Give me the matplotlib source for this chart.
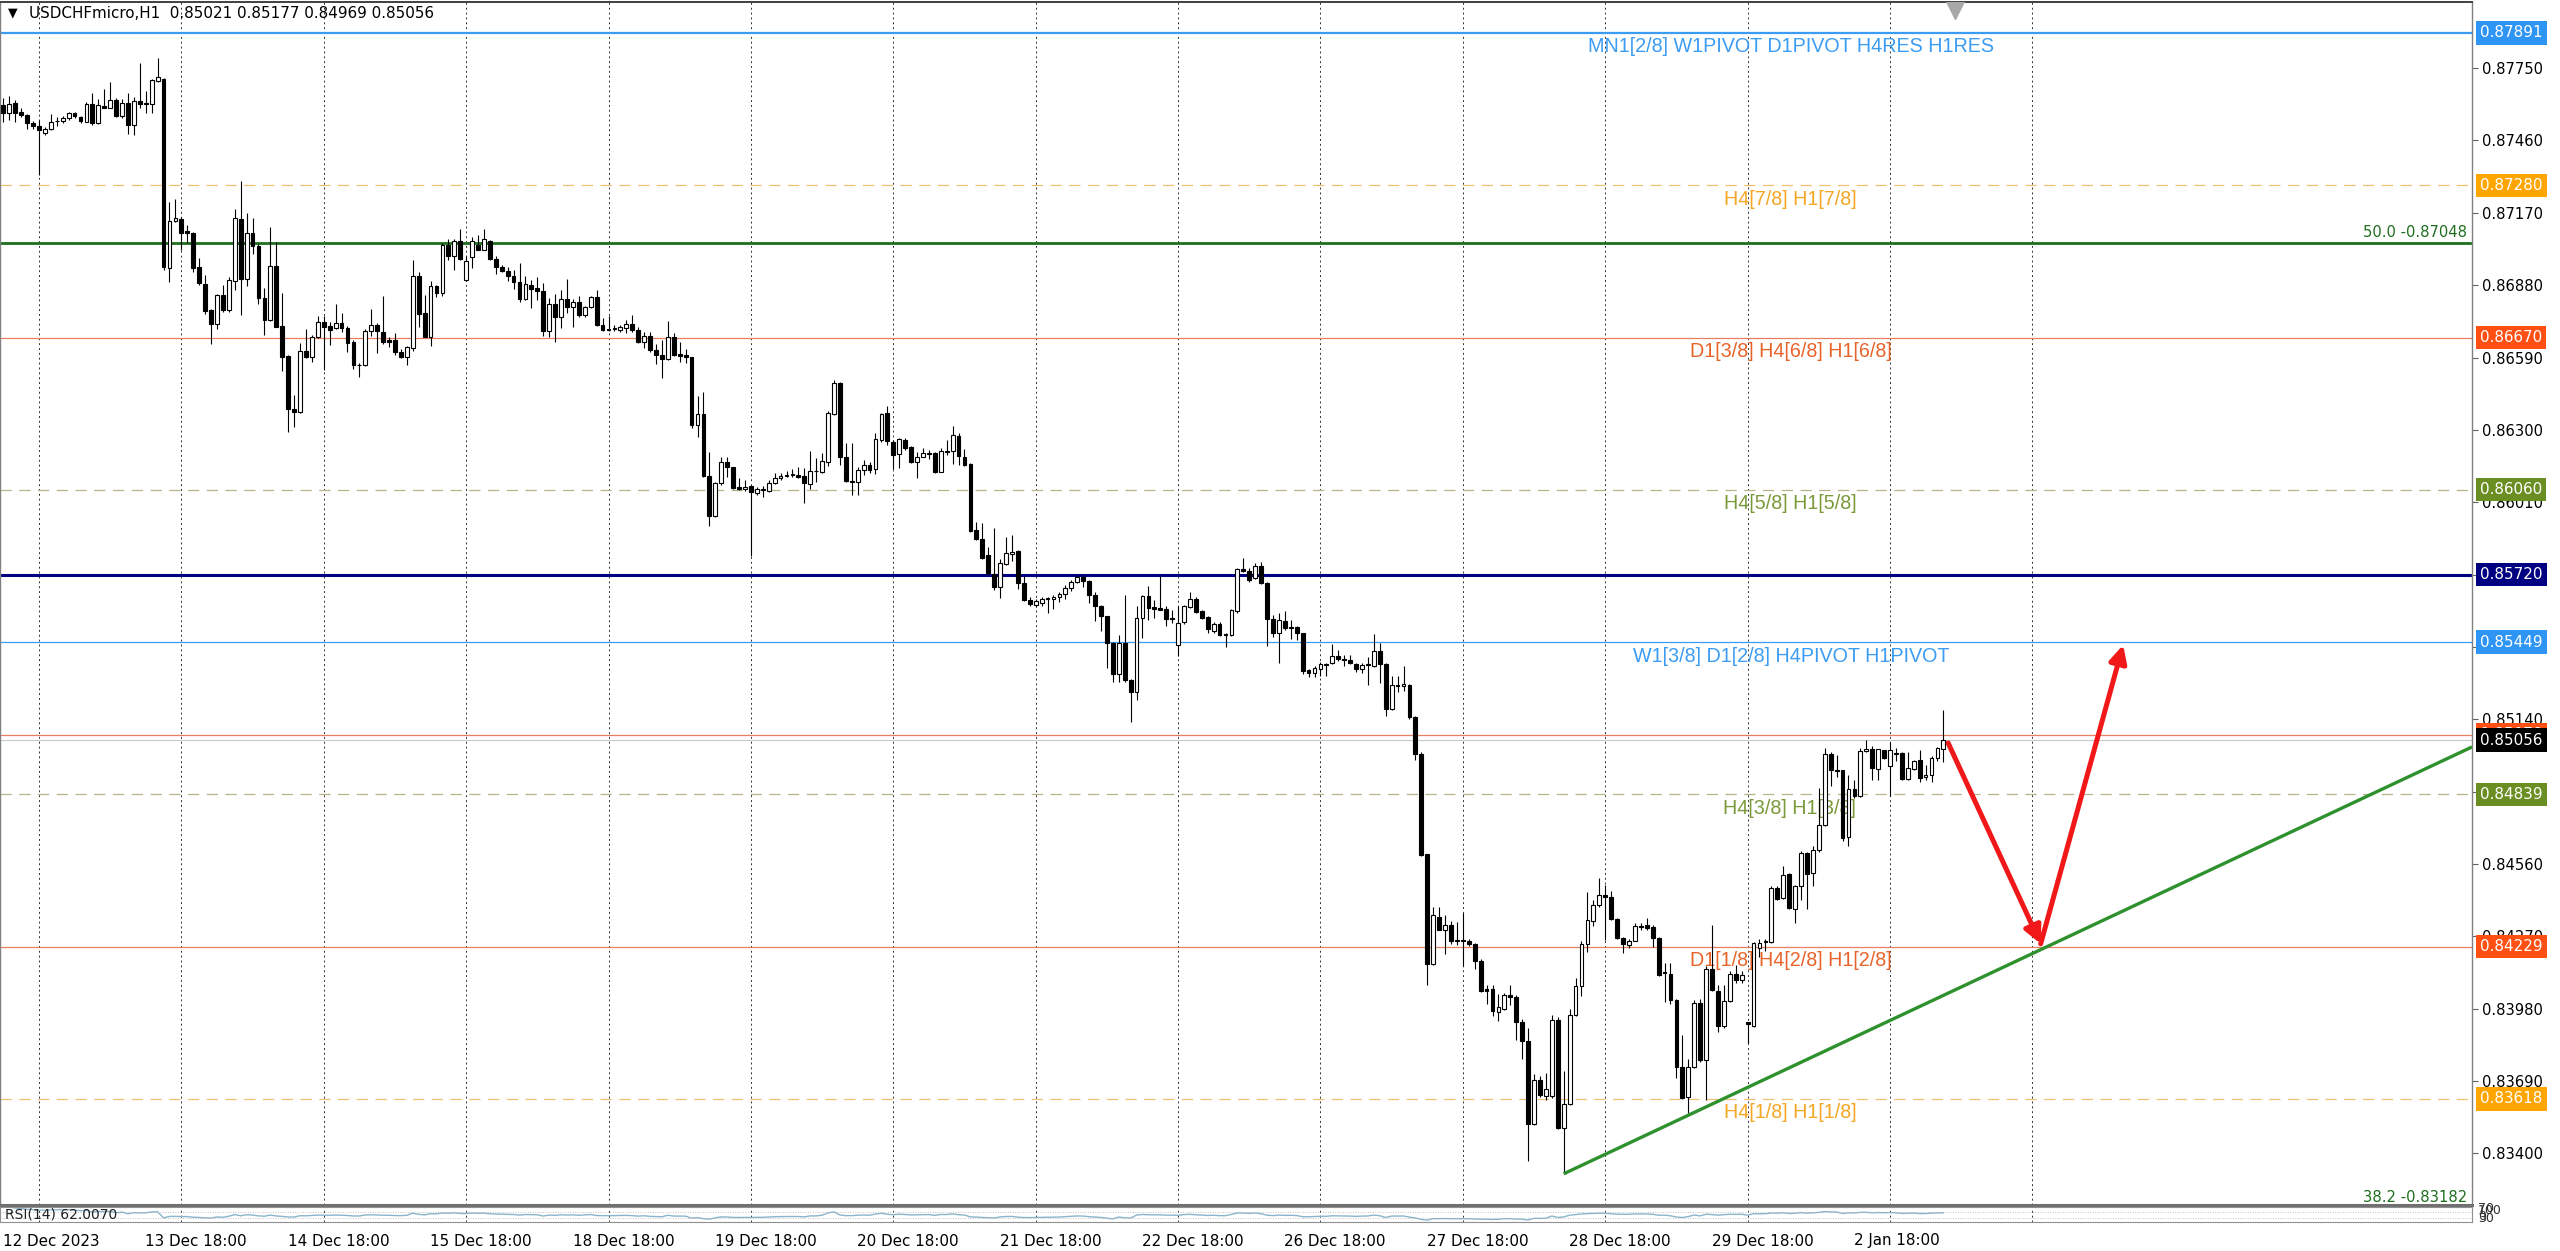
import numpy as np
import pandas as pd
import matplotlib
matplotlib.use("Agg")
import matplotlib.pyplot as plt
import matplotlib.transforms as mtransforms

# USDCHFmicro H1 candles (bar 0 = 12 Dec 12:00)
opens = [
    .87602, .87569, .87609, .87576, .87562, .87529, .87516, .87489, .87505, .87537,
    .87537, .87549, .87572, .87556, .87536, .87605, .87529, .87598, .87592, .87621,
    .87558, .87612, .87521, .87617, .87612, .87606, .87700, .87705, .86949, .87139,
    .87144, .87099, .87091, .86952, .86885, .86781, .86725, .86841, .86781, .86898,
    .87146, .86904, .87091, .87035, .86827, .86741, .86957, .86717, .86596, .86383,
    .86373, .86618, .86594, .86671, .86734, .86717, .86709, .86728, .86708, .86654,
    .86561, .86558, .86697, .86721, .86694, .86661, .86661, .86614, .86594, .86627,
    .86915, .86768, .86674, .86875, .86848, .87042, .86998, .87059, .86901, .86992,
    .87042, .87022, .87059, .86984, .86951, .86937, .86917, .86891, .86824, .86881,
    .86868, .86855, .86697, .86805, .86752, .86824, .86792, .86811, .86761, .86792,
    .86831, .86721, .86706, .86704, .86701, .86708, .86725, .86701, .86654, .86677,
    .86621, .86600, .86583, .86671, .86603, .86600, .86591, .86320, .86364, .86115,
    .85955, .86089, .86173, .86150, .86070, .86063, .86075, .86046, .86059, .86056,
    .86086, .86106, .86115, .86118, .86119, .86115, .86083, .86135, .86133, .86173,
    .86364, .86489, .86190, .86097, .86093, .86139, .86159, .86142, .86260, .86369,
    .86253, .86203, .86260, .86230, .86173, .86193, .86203, .86206, .86133, .86217,
    .86217, .86276, .86193, .86163, .85899, .85861, .85799, .85723, .85672, .85763,
    .85803, .85816, .85688, .85618, .85598, .85605, .85621, .85621, .85629, .85642,
    .85665, .85689, .85712, .85696, .85638, .85592, .85554, .85447, .85322, .85445,
    .85298, .85251, .85545, .85634, .85589, .85586, .85581, .85545, .85438, .85528,
    .85589, .85621, .85572, .85549, .85495, .85522, .85482, .85478, .85572, .85741,
    .85736, .85705, .85756, .85688, .85541, .85485, .85532, .85509, .85509, .85485,
    .85338, .85327, .85343, .85363, .85366, .85392, .85381, .85378, .85363, .85343,
    .85357, .85354, .85413, .85363, .85180, .85277, .85274, .85277, .85151, .85002,
    .84601, .84161, .84349, .84297, .84315, .84253, .84256, .84253, .84238, .84171,
    .84057, .84057, .83968, .83978, .84033, .84027, .83926, .83852, .83518, .83696,
    .83630, .83630, .83934, .83503, .83597, .83953, .84072, .84241, .84330, .84394,
    .84434, .84428, .84339, .84265, .84235, .84253, .84312, .84315, .84307, .84263,
    .84125, .84120, .84016, .83746, .83626, .83746, .84002, .83775, .84139, .84049,
    .83909, .84009, .84120, .84093, .83925, .83909, .84223, .84253, .84249, .84463,
    .84423, .84521, .84379, .84470, .84603, .84523, .84614, .84717, .85002, .84935,
    .84935, .84668, .84860, .84831, .85011, .85020, .84940, .85018, .84953, .85004,
    .85004, .84900, .84940, .84975, .84908, .84917, .84984, .85021,
]
highs = [
    .87629, .87639, .87623, .87589, .87566, .87537, .87542, .87513, .87566, .87553,
    .87558, .87576, .87576, .87558, .87616, .87649, .87625, .87665, .87696, .87629,
    .87625, .87652, .87636, .87772, .87660, .87705, .87792, .87712, .87215, .87224,
    .87155, .87122, .87095, .86988, .86921, .86784, .86845, .86881, .86912, .87184,
    .87299, .87168, .87148, .87045, .86868, .87112, .87055, .86848, .86600, .86440,
    .86650, .86703, .86681, .86757, .86757, .86734, .86805, .86770, .86717, .86661,
    .86567, .86704, .86784, .86730, .86837, .86674, .86690, .86623, .86637, .86979,
    .86931, .86841, .86897, .86881, .87051, .87064, .87064, .87104, .86995, .87075,
    .87082, .87104, .87062, .86995, .86961, .86951, .86941, .86968, .86917, .86901,
    .86912, .86888, .86828, .86845, .86859, .86904, .86824, .86835, .86797, .86837,
    .86861, .86748, .86757, .86721, .86721, .86741, .86761, .86714, .86694, .86694,
    .86645, .86660, .86737, .86690, .86654, .86623, .86594, .86436, .86453, .86213,
    .86093, .86193, .86193, .86153, .86106, .86099, .86075, .86072, .86075, .86099,
    .86126, .86129, .86137, .86142, .86153, .86146, .86217, .86186, .86206, .86377,
    .86500, .86493, .86249, .86249, .86150, .86179, .86173, .86286, .86369, .86396,
    .86260, .86266, .86266, .86236, .86213, .86226, .86219, .86213, .86226, .86260,
    .86316, .86286, .86222, .86166, .85932, .85928, .85832, .85908, .85781, .85872,
    .85879, .85819, .85715, .85629, .85621, .85629, .85629, .85638, .85652, .85679,
    .85699, .85719, .85719, .85699, .85652, .85598, .85554, .85451, .85478, .85638,
    .85300, .85594, .85638, .85675, .85618, .85715, .85592, .85578, .85594, .85598,
    .85652, .85629, .85578, .85552, .85528, .85528, .85487, .85581, .85745, .85785,
    .85745, .85768, .85772, .85692, .85558, .85565, .85572, .85538, .85512, .85487,
    .85341, .85354, .85369, .85366, .85440, .85418, .85398, .85398, .85366, .85366,
    .85388, .85481, .85447, .85366, .85314, .85314, .85354, .85280, .85155, .85007,
    .84601, .84386, .84386, .84357, .84330, .84327, .84364, .84260, .84245, .84181,
    .84075, .84075, .84038, .84042, .84075, .84033, .83938, .83904, .83719, .83711,
    .83721, .83953, .83948, .83730, .83978, .84101, .84253, .84446, .84416, .84502,
    .84475, .84453, .84342, .84268, .84260, .84324, .84324, .84345, .84316, .84269,
    .84163, .84163, .84018, .83875, .83778, .84016, .84018, .84149, .84316, .84076,
    .84076, .84129, .84156, .84129, .83925, .84249, .84259, .84259, .84470, .84470,
    .84550, .84523, .84477, .84610, .84606, .84630, .84864, .85024, .85007, .84998,
    .84937, .84917, .84897, .85024, .85058, .85031, .85020, .85018, .85047, .85024,
    .85007, .85007, .84978, .85018, .84958, .84994, .85028, .85177,
]
lows = [
    .87536, .87542, .87532, .87553, .87505, .87505, .87322, .87482, .87500, .87518,
    .87529, .87542, .87549, .87529, .87532, .87522, .87526, .87589, .87589, .87553,
    .87552, .87486, .87480, .87589, .87569, .87572, .87696, .86941, .86894, .87135,
    .87021, .87048, .86934, .86881, .86765, .86645, .86703, .86774, .86774, .86861,
    .86761, .86877, .87005, .86805, .86681, .86738, .86711, .86534, .86293, .86313,
    .86369, .86587, .86574, .86667, .86538, .86641, .86704, .86694, .86614, .86543,
    .86511, .86554, .86677, .86607, .86645, .86634, .86601, .86587, .86561, .86618,
    .86712, .86672, .86637, .86832, .86835, .86981, .86939, .86981, .86895, .86948,
    .87019, .87019, .86981, .86925, .86931, .86895, .86864, .86811, .86821, .86788,
    .86821, .86677, .86672, .86654, .86708, .86768, .86712, .86752, .86754, .86788,
    .86717, .86698, .86698, .86698, .86693, .86690, .86694, .86648, .86627, .86614,
    .86565, .86507, .86580, .86596, .86574, .86567, .86306, .86273, .86113, .85915,
    .85952, .86079, .86113, .86062, .86059, .86056, .85795, .86039, .86030, .86052,
    .86083, .86099, .86110, .86113, .86106, .86006, .86062, .86093, .86126, .86155,
    .86360, .86159, .86093, .86039, .86039, .86119, .86126, .86123, .86253, .86240,
    .86142, .86146, .86220, .86169, .86106, .86190, .86182, .86126, .86130, .86199,
    .86163, .86159, .86155, .85892, .85859, .85781, .85718, .85659, .85625, .85759,
    .85776, .85661, .85616, .85592, .85589, .85592, .85565, .85581, .85612, .85621,
    .85656, .85685, .85672, .85605, .85532, .85495, .85345, .85291, .85291, .85291,
    .85131, .85218, .85465, .85538, .85545, .85576, .85514, .85525, .85394, .85522,
    .85585, .85565, .85541, .85485, .85487, .85474, .85429, .85474, .85565, .85732,
    .85692, .85701, .85683, .85434, .85469, .85367, .85498, .85461, .85458, .85322,
    .85308, .85308, .85314, .85314, .85363, .85373, .85354, .85363, .85329, .85324,
    .85277, .85351, .85284, .85155, .85176, .85250, .85254, .85143, .84977, .84591,
    .84075, .84156, .84294, .84201, .84238, .84235, .84149, .84230, .84137, .84045,
    .84000, .83949, .83929, .83974, .83993, .83855, .83778, .83370, .83514, .83627,
    .83614, .83622, .83499, .83318, .83592, .83949, .84030, .84208, .84312, .84386,
    .84256, .84334, .84260, .84205, .84223, .84250, .84297, .84297, .84229, .84109,
    .84005, .83999, .83702, .83617, .83561, .83742, .83768, .83615, .84049, .83885,
    .83902, .84005, .84082, .84082, .83842, .83906, .84189, .84213, .84245, .84416,
    .84419, .84379, .84323, .84416, .84379, .84470, .84606, .84713, .84871, .84908,
    .84654, .84630, .84824, .84828, .85007, .84895, .84895, .84980, .84831, .84971,
    .84897, .84897, .84935, .84887, .84897, .84887, .84971, .84969,
]
closes = [
    .87572, .87606, .87572, .87562, .87529, .87518, .87502, .87505, .87534, .87540,
    .87550, .87569, .87558, .87538, .87606, .87529, .87602, .87592, .87621, .87560,
    .87612, .87522, .87617, .87605, .87606, .87703, .87716, .86952, .87139, .87148,
    .87091, .87088, .86948, .86888, .86778, .86725, .86841, .86781, .86901, .87148,
    .86904, .87091, .87035, .86827, .86741, .86955, .86714, .86594, .86383, .86373,
    .86618, .86594, .86674, .86734, .86714, .86701, .86730, .86708, .86650, .86558,
    .86558, .86697, .86721, .86698, .86654, .86654, .86614, .86594, .86634, .86917,
    .86765, .86674, .86877, .86848, .87042, .86998, .87059, .86984, .86975, .87059,
    .87022, .87064, .86984, .86952, .86935, .86917, .86891, .86824, .86884, .86864,
    .86855, .86697, .86805, .86752, .86824, .86792, .86811, .86761, .86792, .86831,
    .86721, .86701, .86701, .86708, .86714, .86724, .86701, .86654, .86677, .86621,
    .86601, .86584, .86671, .86600, .86598, .86591, .86320, .86364, .86115, .85955,
    .86089, .86173, .86150, .86066, .86062, .86069, .86052, .86062, .86062, .86086,
    .86106, .86115, .86119, .86122, .86113, .86086, .86137, .86137, .86177, .86369,
    .86489, .86193, .86097, .86093, .86139, .86159, .86139, .86262, .86364, .86257,
    .86199, .86262, .86226, .86173, .86193, .86206, .86209, .86133, .86217, .86213,
    .86280, .86195, .86159, .85896, .85861, .85785, .85725, .85669, .85765, .85805,
    .85812, .85685, .85618, .85602, .85614, .85622, .85625, .85632, .85642, .85665,
    .85692, .85712, .85696, .85638, .85592, .85552, .85445, .85322, .85445, .85298,
    .85251, .85545, .85634, .85585, .85581, .85578, .85541, .85541, .85525, .85592,
    .85621, .85568, .85545, .85502, .85522, .85478, .85478, .85578, .85741, .85736,
    .85699, .85756, .85685, .85541, .85485, .85538, .85505, .85505, .85485, .85335,
    .85327, .85345, .85363, .85358, .85395, .85381, .85376, .85366, .85343, .85358,
    .85363, .85413, .85363, .85180, .85277, .85274, .85280, .85151, .85002, .84597,
    .84161, .84354, .84297, .84315, .84250, .84256, .84253, .84238, .84171, .84052,
    .84052, .83971, .83986, .84033, .84027, .83926, .83852, .83518, .83696, .83632,
    .83656, .83934, .83503, .83597, .83953, .84072, .84241, .84334, .84394, .84434,
    .84428, .84339, .84265, .84238, .84253, .84312, .84308, .84305, .84263, .84116,
    .84123, .84016, .83746, .83622, .83746, .84002, .83775, .84139, .84056, .83909,
    .84009, .84120, .84093, .84116, .83919, .84245, .84245, .84249, .84463, .84419,
    .84517, .84383, .84470, .84603, .84521, .84617, .84717, .85002, .84935, .84931,
    .84664, .84860, .84831, .85011, .85020, .84944, .85020, .84984, .85018, .85002,
    .84900, .84944, .84971, .84904, .84917, .84984, .85024, .85056,
]

date_labels = ["12 Dec 2023", "13 Dec 18:00", "14 Dec 18:00", "15 Dec 18:00",
               "18 Dec 18:00", "19 Dec 18:00", "20 Dec 18:00", "21 Dec 18:00",
               "22 Dec 18:00", "26 Dec 18:00", "27 Dec 18:00", "28 Dec 18:00",
               "29 Dec 18:00", "2 Jan 18:00"]
grid_bars = [6 + 24 * k for k in range(15)]

price_ticks = [0.87750, 0.87460, 0.87170, 0.86880, 0.86590, 0.86300, 0.86010,
               0.85720, 0.85430, 0.85140, 0.84850, 0.84560, 0.84270, 0.83980,
               0.83690, 0.83400]

# Murrey/pivot levels: price, line colour, style, width, label, box colour
levels = [
    (0.87891, '#3a9cf2', '-', 1.6, 'MN1[2/8] W1PIVOT D1PIVOT H4RES H1RES', '#2f95f5'),
    (0.87280, '#f0c070', (0, (9, 6)), 0.9, 'H4[7/8] H1[7/8]', '#ffa500'),
    (0.86670, '#e88060', '-', 0.9, 'D1[3/8] H4[6/8] H1[6/8]', '#ff4f12'),
    (0.86060, '#b8b48a', (0, (9, 6)), 0.9, 'H4[5/8] H1[5/8]', '#6b8e23'),
    (0.85720, '#000080', '-', 2.2, '', '#000080'),
    (0.85449, '#3a9cf2', '-', 0.9, 'W1[3/8] D1[2/8] H4PIVOT H1PIVOT', '#2f95f5'),
    (0.85078, '#e88060', '-', 0.9, '', '#ff4f12'),
    (0.84839, '#b8b48a', (0, (9, 6)), 0.9, 'H4[3/8] H1[3/8]', '#6b8e23'),
    (0.84229, '#e88060', '-', 0.9, 'D1[1/8] H4[2/8] H1[2/8]', '#ff4f12'),
    (0.83618, '#f0c070', (0, (9, 6)), 0.9, 'H4[1/8] H1[1/8]', '#ffa500'),
]
level_text_colors = ['#3a9cf2', '#f5a623', '#e8632a', '#7a9a3a', None,
                     '#3a9cf2', None, '#7a9a3a', '#e8632a', '#f5a623']
label_x = [1791, 1790, 1791, 1790, 0, 1791, 0, 1790, 1791, 1790]

fibo = [(0.87048, '50.0 -0.87048'), (0.83182, '38.2 -0.83182')]

trend_x = [263, 416.1]
trend_y = [0.83318, 0.85029]
arrow_x = [327.8, 343.4, 357.3]
arrow_y = [0.85045, 0.84240, 0.85438]

W, H = 2560, 1251
fig = plt.figure(figsize=(W / 100, H / 100), dpi=100)
fig.patch.set_facecolor('white')

x0_px, x1_px = 0, 2472
top_px, bot_px = 2, 1205
ax = fig.add_axes([x0_px / W, 1 - bot_px / H, (x1_px - x0_px) / W, (bot_px - top_px) / H])
rsi_ax = fig.add_axes([x0_px / W, 1 - 1222 / H, (x1_px - x0_px) / W, 15 / H])

n = len(opens)
x = np.arange(n)
o = np.array(opens)
h = np.array(highs)
l = np.array(lows)
c = np.array(closes)

xmin, xmax = -0.57, 416.1
ax.set_xlim(xmin, xmax)
ax.set_ylim(0.83193, 0.88015)

# grid
for g in grid_bars:
    ax.axvline(g, color='#303030', lw=0.7, ls=(0, (2, 3)), zorder=0)
    rsi_ax.axvline(g, color='#303030', lw=0.7, ls=(0, (2, 3)), zorder=0)

# levels
for (p, col, ls, lw, txt, box), tcol, lx in zip(levels, level_text_colors, label_x):
    ax.axhline(p, color=col, ls=ls, lw=lw, zorder=1)
    if txt:
        ax.text(xmin + lx / 5.933, p - 0.00018, txt, color=tcol, fontsize=14.2,
                family='Liberation Sans', ha='center', va='top', zorder=2)
    ax.text(1 + 8 / x1_px, p, f"{p:.5f}", transform=ax.get_yaxis_transform(),
            color='white', fontsize=10.9, ha='left', va='center', zorder=6,
            clip_on=False, bbox=dict(facecolor=box, edgecolor='none', pad=3.0))

for p, txt in fibo:
    ax.axhline(p, color='#1e6e1e', lw=2.0, zorder=1)
    ax.text(0.998, p + 0.00012, txt, transform=ax.get_yaxis_transform(),
            color='#1e6e1e', fontsize=10.6, ha='right', va='bottom', zorder=2)

# current price line
ax.axhline(closes[-1], color='#c8c8c8', lw=0.8, zorder=1)
ax.text(1 + 8 / x1_px, closes[-1], f"{closes[-1]:.5f}", transform=ax.get_yaxis_transform(),
        color='white', fontsize=10.9, ha='left', va='center', zorder=7, clip_on=False,
        bbox=dict(facecolor='black', edgecolor='none', pad=3.0))

# candles
ax.vlines(x, l, h, color='black', lw=0.8, zorder=3)
up = c >= o
body_lo = np.minimum(o, c)
body_h = np.abs(c - o)
ax.bar(x[up], body_h[up], bottom=body_lo[up], width=0.64, color='white',
       edgecolor='black', linewidth=0.8, zorder=4)
ax.bar(x[~up], body_h[~up], bottom=body_lo[~up], width=0.64, color='black',
       edgecolor='black', linewidth=0.8, zorder=4)

# trend line and arrows
ax.plot(trend_x, trend_y, color='#2e912e', lw=2.4, zorder=5, solid_capstyle='butt')
for i in range(len(arrow_x) - 1):
    ax.annotate('', xy=(arrow_x[i + 1], arrow_y[i + 1]), xytext=(arrow_x[i], arrow_y[i]),
                arrowprops=dict(arrowstyle='-|>', color='#f01818', lw=3.6,
                                mutation_scale=26, shrinkA=0, shrinkB=0), zorder=6)

# shift marker at top
ax.plot([329], [0.88015], marker='v', color='#a8a8a8', ms=24, zorder=6, clip_on=True)

# axes styling
ax.set_xticks([])
ax.yaxis.tick_right()
ax.set_yticks(price_ticks)
ax.set_yticklabels([f"{t:.5f}" for t in price_ticks])
ax.tick_params(axis='y', length=4, width=0.8, pad=3, labelsize=10.6, color='#606060')
for s in ['left', 'right']:
    ax.spines[s].set_color('#808080')
    ax.spines[s].set_linewidth(1.0)
ax.spines['top'].set_color('#404040')
ax.spines['top'].set_linewidth(1.4)
ax.spines['bottom'].set_color('#707070')
ax.spines['bottom'].set_linewidth(2.2)

# header
fig.text(8 / W, 1 - 13 / H, "\u25bc", fontsize=9, ha='left', va='center', color='black')
fig.text(29 / W, 1 - 13 / H, "USDCHFmicro,H1  0.85021 0.85177 0.84969 0.85056",
         fontsize=10.9, ha='left', va='center', color='black')

# RSI(14) sub-window
delta = pd.Series(closes).diff()
gain = delta.clip(lower=0).ewm(alpha=1 / 14, adjust=False).mean()
loss = (-delta.clip(upper=0)).ewm(alpha=1 / 14, adjust=False).mean()
rsi = 100 - 100 / (1 + gain / loss)
rsi_ax.plot(x[1:], rsi.values[1:], color='#8ab4cc', lw=1.0)
rsi_ax.axhline(70, color='#b0b0b0', lw=0.6, ls=(0, (1, 2)))
rsi_ax.axhline(30, color='#b0b0b0', lw=0.6, ls=(0, (1, 2)))
rsi_ax.set_xlim(xmin, xmax)
rsi_ax.set_ylim(0, 100)
rsi_ax.set_xticks([])
rsi_ax.set_yticks([])
for s in rsi_ax.spines.values():
    s.set_color('#909090')
    s.set_linewidth(0.8)
rsi_ax.text(0.002, 0.5, "RSI(14) 62.0070", transform=rsi_ax.transAxes, fontsize=10,
            ha='left', va='center', color='#202020')
# the four scale numbers of the squeezed RSI window print on top of each other
for t, dy in zip(["70", "30", "100", "0"], [0.9, 0.2, 0.75, 0.35]):
    rsi_ax.text(1 + 6 / x1_px, dy, t, transform=rsi_ax.transAxes, fontsize=9,
                ha='left', va='center', color='#303030', clip_on=False)

# date labels
trans = mtransforms.blended_transform_factory(ax.transData, fig.transFigure)
for k, lab in enumerate(date_labels):
    ax.text(24 * k - 0.07, 1 - 1241 / H, lab, transform=trans, fontsize=10.9,
            ha='left', va='center', color='black', clip_on=False)

fig.savefig("out.png", dpi=100, facecolor='white')
